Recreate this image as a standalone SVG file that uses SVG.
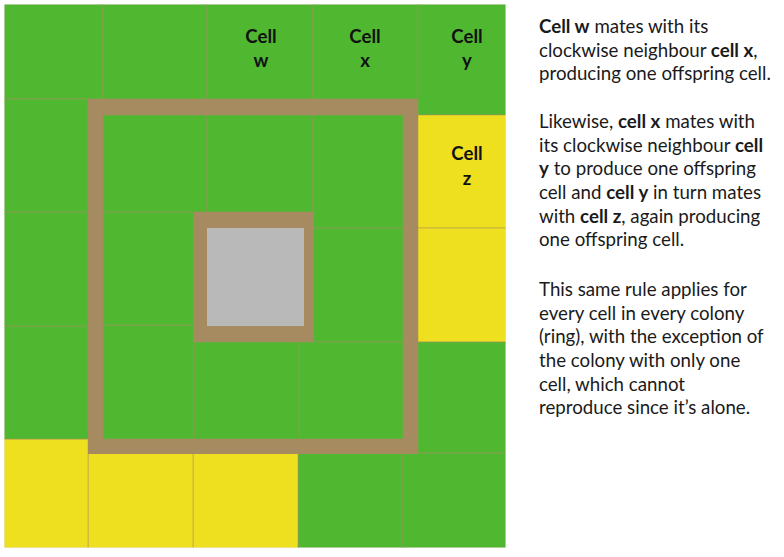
<svg xmlns="http://www.w3.org/2000/svg" width="784" height="557" viewBox="0 0 784 557">
<style>
.g{fill:#50b830;stroke:#a68b60;stroke-opacity:0.5;stroke-width:1}
.y{fill:#efe01f;stroke:#a68b60;stroke-opacity:0.5;stroke-width:1}
.lbl{font-family:Lato,"Liberation Sans",sans-serif;font-weight:bold;font-size:18.6px;fill:#111;text-anchor:middle}
.txt{font-family:Lato,"Liberation Sans",sans-serif;font-size:18.7px;fill:#1a1a1a}
.b{font-weight:bold}
</style>
<defs><clipPath id="gridclip"><rect x="4.5" y="4.5" width="501" height="543"/></clipPath></defs>
<rect width="784" height="557" fill="#fff"/>
<g clip-path="url(#gridclip)">
<g id="outer-ring">
<g id="cell-o1"><rect class="g" x="4" y="4" width="99" height="95"/></g>
<g id="cell-o2"><rect class="g" x="103" y="4" width="104" height="95"/></g>
<g id="cell-w"><rect class="g" x="207" y="4" width="106" height="95"/></g>
<g id="cell-x"><rect class="g" x="313" y="4" width="105" height="95"/></g>
<g id="cell-y"><rect class="g" x="418" y="4" width="88" height="111"/></g>
<g id="cell-z"><rect class="y" x="418" y="115" width="88" height="113"/></g>
<g id="cell-o7"><rect class="y" x="418" y="228" width="88" height="114"/></g>
<g id="cell-o8"><rect class="g" x="418" y="342" width="88" height="111"/></g>
<g id="cell-o9"><rect class="g" x="402" y="453" width="104" height="95"/></g>
<g id="cell-o10"><rect class="g" x="298" y="453" width="104" height="95"/></g>
<g id="cell-o11"><rect class="y" x="193" y="453" width="105" height="95"/></g>
<g id="cell-o12"><rect class="y" x="88" y="453" width="105" height="95"/></g>
<g id="cell-o13"><rect class="y" x="4" y="439" width="84" height="109"/></g>
<g id="cell-o14"><rect class="g" x="4" y="326" width="84" height="113"/></g>
<g id="cell-o15"><rect class="g" x="4" y="212" width="84" height="114"/></g>
<g id="cell-o16"><rect class="g" x="4" y="99" width="84" height="113"/></g>
</g>
<g id="inner-ring">
<g id="cell-i1"><rect class="g" x="103" y="115" width="104" height="97"/></g>
<g id="cell-i2"><rect class="g" x="207" y="115" width="106" height="97"/></g>
<g id="cell-i3"><rect class="g" x="313" y="115" width="90" height="113"/></g>
<g id="cell-i4"><rect class="g" x="313" y="228" width="90" height="114"/></g>
<g id="cell-i5"><rect class="g" x="299" y="342" width="104" height="97"/></g>
<g id="cell-i6"><rect class="g" x="194" y="342" width="105" height="97"/></g>
<g id="cell-i7"><rect class="g" x="103" y="325" width="91" height="114"/></g>
<g id="cell-i8"><rect class="g" x="103" y="212" width="91" height="113"/></g>
</g>
</g>
<g id="ring-frame">
<path d="M88 99H418V454H88Z M103 115V439H403V115Z" fill="#a68b60" fill-rule="evenodd"/>
</g>
<g id="center-cell">
<rect x="193" y="212" width="121" height="130" fill="#a68b60"/>
<rect x="207" y="228" width="97" height="98" fill="#b9b9b9"/>
</g>
<g id="cell-labels">
<text class="lbl" x="261" y="43">Cell</text><text class="lbl" x="261" y="67">w</text>
<text class="lbl" x="365" y="43">Cell</text><text class="lbl" x="365" y="67">x</text>
<text class="lbl" x="467" y="43">Cell</text><text class="lbl" x="467" y="67">y</text>
<text class="lbl" x="467" y="160">Cell</text><text class="lbl" x="467" y="185">z</text>
</g>
<g id="connectors"/>
<g id="description" class="txt">
<text x="539" y="33"><tspan class="b">Cell w</tspan> mates with its</text>
<text x="539" y="56.7">clockwise neighbour <tspan class="b">cell x</tspan>,</text>
<text x="539" y="80.4">producing one offspring cell.</text>
<text x="539" y="128">Likewise, <tspan class="b">cell x</tspan> mates with</text>
<text x="539" y="151.7">its clockwise neighbour <tspan class="b">cell</tspan></text>
<text x="539" y="175.4"><tspan class="b">y</tspan> to produce one offspring</text>
<text x="539" y="199">cell and <tspan class="b">cell y</tspan> in turn mates</text>
<text x="539" y="222.7">with <tspan class="b">cell z</tspan>, again producing</text>
<text x="539" y="246.4">one offspring cell.</text>
<text x="539" y="296">This same rule applies for</text>
<text x="539" y="319.7">every cell in every colony</text>
<text x="539" y="343.4">(ring), with the exception of</text>
<text x="539" y="367">the colony with only one</text>
<text x="539" y="390.7">cell, which cannot</text>
<text x="539" y="414.4">reproduce since it’s alone.</text>
</g>
</svg>
